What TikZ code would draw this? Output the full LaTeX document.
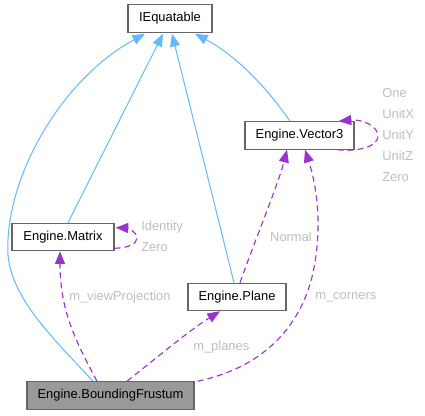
\documentclass[tikz,border=0pt]{standalone}
\usepackage{fontspec}
\setmainfont{Liberation Sans}
\usetikzlibrary{arrows.meta,calc}
\definecolor{inhblue}{HTML}{63B8FF}
\definecolor{usepurple}{HTML}{9A32CD}
\definecolor{lblgray}{HTML}{BEBEBE}
\definecolor{boxborder}{HTML}{666666}
\definecolor{curfill}{HTML}{999999}
\begin{document}
\begin{tikzpicture}[x=0.75pt,y=-0.75pt,
  font=\fontsize{9.7}{11}\selectfont,
  cls/.style={draw=boxborder, line width=0.9pt, fill=white, inner sep=0pt, minimum height=20.5pt},
  inh/.style={draw=inhblue, line width=0.75pt, -{Triangle[length=9.5pt,width=7.5pt]}},
  use/.style={draw=usepurple, line width=0.85pt, dash pattern=on 4.5pt off 3pt, -{Triangle[length=9.5pt,width=7.5pt]}},
  lbl/.style={text=lblgray, inner sep=0pt}]
\useasboundingbox (0,0) rectangle (425,415);

\node[cls, minimum width=63pt] (ieq) at (170,18.5) {IEquatable};
\node[cls, minimum width=81.75pt] (vec) at (299.5,135.5) {Engine.Vector3};
\node[cls, minimum width=76.5pt] (mat) at (63,237) {Engine.Matrix};
\node[cls, minimum width=73.5pt] (pla) at (237,297) {Engine.Plane};
\node[cls, minimum width=125.25pt, fill=curfill] (bf) at (110.5,395.5) {Engine.BoundingFrustum};

% inheritance
\draw[inh] ($(bf.north)+(-17.5,0)$) .. controls (55,340) and (12,300) .. (8,255)
   .. controls (4,180) and (60,80) .. ($(ieq.south)+(-25,1)$);
\draw[inh] ($(mat.north)+(5,0)$) -- ($(ieq.south)+(-7,1)$);
\draw[inh] ($(pla.north)+(-3,0)$) -- ($(ieq.south)+(2,1)$);
\draw[inh] ($(vec.north)+(-9.5,0)$) .. controls (265,85) and (235,55) .. ($(ieq.south)+(25,1)$);

% usage
\draw[use] ($(vec.south east)+(-17,0)$) .. controls (360,152) and (378,146) .. (378,136)
   .. controls (378,126) and (362,119) .. ($(vec.north east)+(-16,0)$);
\draw[use] ($(mat.south east)+(0,-3)$) .. controls (128,248) and (137,244) .. (137,238)
   .. controls (137,232) and (128,228) .. ($(mat.north east)+(1,5)$);
\draw[use] ($(pla.north)+(3,0)$) .. controls (255,240) and (278,185) .. ($(vec.south)+(-12.5,0)$);
\draw[use] ($(bf.north east)+(3,0)$) .. controls (260,368) and (300,330) .. (313,273)
   .. controls (322,230) and (318,190) .. ($(vec.south)+(5.5,0)$);
\draw[use] ($(bf.north)+(-13.5,0)$) .. controls (75,340) and (60,310) .. ($(mat.south)+(-3,0)$);
\draw[use] ($(bf.north)+(16.5,0)$) .. controls (160,355) and (190,330) .. ($(pla.south)+(-17,0)$);

% labels
\node[lbl, anchor=west] (l1) at (382,93) {One};
\node[lbl, anchor=west] (l2) at (382,114) {UnitX};
\node[lbl, anchor=west] (l3) at (382,135) {UnitY};
\node[lbl, anchor=west] (l4) at (382,156) {UnitZ};
\node[lbl, anchor=west] (l5) at (382,177) {Zero};
\node[lbl, anchor=west] (l6) at (141,227) {Identity};
\node[lbl, anchor=west] (l7) at (141,247) {Zero};
\node[lbl] (l8) at (291,237) {Normal};
\node[lbl, anchor=west] (l9) at (69,297) {m\_viewProjection};
\node[lbl, anchor=west] (l10) at (315,297) {m\_corners};
\node[lbl, anchor=west] (l11) at (193,347) {m\_planes};
\end{tikzpicture}
\end{document}
